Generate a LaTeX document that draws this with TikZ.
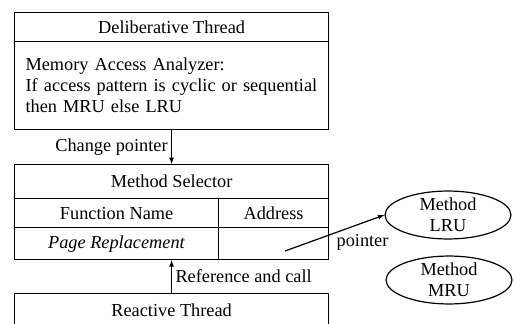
\documentclass[tikz,border=0pt]{standalone}
\usepackage{fontspec}
\setmainfont{Liberation Serif}
\usepackage{tikz}
\usetikzlibrary{shapes.geometric}

\begin{document}
\begin{tikzpicture}[x=1pt, y=-1pt, line width=1.2pt,
    font=\fontsize{18.3}{21}\selectfont,
    cella/.style={draw, inner sep=0pt, anchor=north west},
    metodo/.style={draw, ellipse, align=center, inner sep=0pt,
        minimum width=126, minimum height=46},
    freccia/.style={-latex}]
        \def\sx{14}  % bordo sinistro
        \def\lg{314} % larghezza delle caselle

        % cornice dell'immagine
        \path[use as bounding box, clip] (0,0) rectangle (515,324);

        % Thread deliberativo
        \node[cella, minimum width=\lg, minimum height=29] (titolo) at (\sx,12) {Deliberative Thread};
        \node[cella, minimum width=\lg, minimum height=88, text width=292, inner xsep=11, align=left]
        (analizzatore) at (\sx,41)
        {Memory Access Analyzer:\\If access pattern is cyclic or sequential\\then MRU else LRU};

        % Selettore dei metodi
        \node[cella, minimum width=\lg, minimum height=34] (selettore) at (\sx,164) {Method Selector};
        \node[cella, minimum width=204, minimum height=29] (nome) at (\sx,198) {Function Name};
        \node[cella, minimum width=110, minimum height=29] (indirizzo) at (218,198) {Address};
        \node[cella, minimum width=204, minimum height=32] (funzione) at (\sx,227) {\textit{Page Replacement}};
        \node[cella, minimum width=110, minimum height=32] (puntatore) at (218,227) {};

        % Thread reattivo (tagliato in basso)
        \node[cella, minimum width=\lg, minimum height=34] (reattivo) at (\sx,293) {Reactive Thread};

        % Metodi
        \node[metodo] (lru) at (448,215) {Method\\LRU};
        \node[metodo] (mru) at (449,280) {Method\\MRU};

        % Frecce
        \draw[freccia] (analizzatore.south) -- (selettore.north)
        node[midway, left] {Change pointer};
        \draw[freccia] (reattivo.north) -- (reattivo.north |- funzione.south)
        node[midway, right] {Reference and call};
        \coordinate (origine) at (285,251);
        \draw[freccia] (origine) -- (lru.west)
        node[pos=0.78, below=8pt] {pointer};
    \end{tikzpicture}
\end{document}
